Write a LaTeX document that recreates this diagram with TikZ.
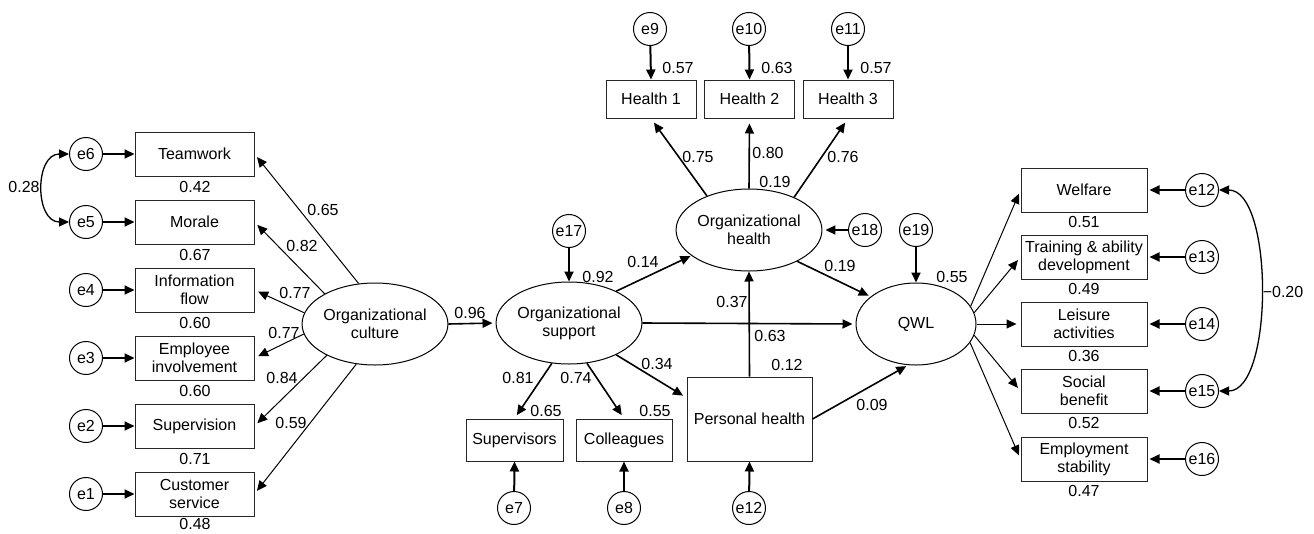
\documentclass[tikz,border=0pt]{standalone}
\usepackage{fontspec}
\setmainfont{Liberation Sans}
\usetikzlibrary{arrows.meta,shapes.geometric,calc}
\begin{document}
\begin{tikzpicture}[x=1pt,y=-1pt,
  font=\fontsize{16}{18}\selectfont,
  tip/.style={-{Triangle[length=10pt,width=9pt]}},
  thinarr/.style={tip, line width=1.0pt},
  patharr/.style={tip, line width=1.6pt},
  errarr/.style={tip, line width=2.0pt},
  covarr/.style={{Triangle[length=10pt,width=9pt]}-{Triangle[length=10pt,width=9pt]}, line width=1.3pt},
  obs/.style={draw=black!85, line width=1pt, fill=white, inner sep=0pt, align=center},
  lbox/.style={obs, minimum width=119pt, minimum height=44pt},
  rbox/.style={obs, minimum width=126pt, minimum height=44pt},
  hbox/.style={obs, minimum width=90pt, minimum height=38pt},
  sbox/.style={obs, minimum height=42pt},
  lat/.style={ellipse, draw, line width=1pt, fill=white, minimum width=120pt, minimum height=82pt, inner sep=0pt, align=center},
  err/.style={circle, draw, line width=1pt, fill=white, minimum size=33pt, inner sep=0pt},
  lab/.style={inner sep=0pt}
]
\useasboundingbox (0,0) rectangle (1314,533);

% ---------- left: organizational culture ----------
\node[lbox] (b6) at (194.5,154) {Teamwork};
\node[lbox] (b5) at (194.5,222) {Morale};
\node[lbox] (b4) at (194.5,290) {Information\\flow};
\node[lbox] (b3) at (194.5,358) {Employee\\involvement};
\node[lbox] (b2) at (194.5,426) {Supervision};
\node[lbox] (b1) at (194.5,494) {Customer\\service};

\node[err] (e6) at (86,154) {e6};
\node[err] (e5) at (86,222) {e5};
\node[err] (e4) at (86,290) {e4};
\node[err] (e3) at (86,358) {e3};
\node[err] (e2) at (86,426) {e2};
\node[err] (e1) at (86,494) {e1};

\node[lab] (r6) at (195,187) {0.42};
\node[lab] (r5) at (195,255) {0.67};
\node[lab] (r4) at (195,323) {0.60};
\node[lab] (r3) at (195,391) {0.60};
\node[lab] (r2) at (195,459) {0.71};
\node[lab] (r1) at (195,524) {0.48};

\foreach \i in {1,...,6} {\draw[errarr] (e\i) -- (b\i);}

\draw[covarr] (e6.west) to[out=180,in=180,looseness=1.3] (e5.west);
\node[lab] (c28) at (24,187) {0.28};

\node[lat] (oc) at (375,324) {Organizational\\culture};

\draw[thinarr, shorten >=4pt] (oc.112) -- (b6.east);
\draw[thinarr, shorten >=4pt] (oc.149) -- (b5.east);
\draw[thinarr, shorten >=4pt] (oc.171) -- (b4.east);
\draw[thinarr, shorten >=4pt] (oc.188) -- (b3.east);
\draw[thinarr, shorten >=4pt] (oc.213) -- (b2.east);
\draw[thinarr, shorten >=4pt] (oc.245) -- (b1.east);

\node[lab] (l65) at (323,210) {0.65};
\node[lab] (l82) at (302,246) {0.82};
\node[lab] (l77a) at (295,293) {0.77};
\node[lab] (l77b) at (284,333) {0.77};
\node[lab] (l84) at (282,378) {0.84};
\node[lab] (l59) at (291,423) {0.59};

% ---------- organizational support ----------
\node[lat] (os) at (569,323) {Organizational\\support};
\draw[patharr, shorten >=3pt] (oc.east) -- (os.west);
\node[lab] (l96) at (470,313) {0.96};

\node[err] (e17) at (569,231) {e17};
\draw[errarr] (e17) -- (os.north);
\node[lab] (l92) at (598,277) {0.92};

\node[sbox, minimum width=97pt] (sup) at (514.5,440) {Supervisors};
\node[sbox, minimum width=96pt] (col) at (624,440) {Colleagues};
\node[err] (e7) at (514,508) {e7};
\node[err] (e8) at (624,508) {e8};
\draw[errarr] (e7) -- (sup.south);
\draw[errarr] (e8) -- (col.south);

\draw[patharr, shorten >=4pt] (os.247) -- (sup.north);
\draw[patharr, shorten >=4pt] (os.294) -- (col.north);
\node[lab] (l81) at (518,378) {0.81};
\node[lab] (l74) at (576,378) {0.74};
\node[lab] (l65b) at (546,411) {0.65};
\node[lab] (l55b) at (655,411) {0.55};

% ---------- personal health ----------
\node[obs, minimum width=125pt, minimum height=84pt] (ph) at (749.5,419) {Personal health};
\node[err] (e12b) at (749,508) {e12};
\draw[errarr] (e12b) -- (ph.south);
\coordinate (phin) at ($(ph.north west)!0.25!(ph.south west)$);
\draw[patharr, shorten >=4pt] (os.326) -- (phin);
\node[lab] (l34) at (657,364) {0.34};
\node[lab] (l12) at (787,365) {0.12};

% ---------- organizational health ----------
\node[lat] (oh) at (749,230) {Organizational\\health};
\node[hbox] (h1) at (651,99) {Health 1};
\node[hbox] (h2) at (749.5,99) {Health 2};
\node[hbox] (h3) at (848,99) {Health 3};
\node[err] (e9) at (650,29) {e9};
\node[err] (e10) at (749,29) {e10};
\node[err] (e11) at (848,29) {e11};
\draw[errarr] (e9) -- (h1.north);
\draw[errarr] (e10) -- (h2.north);
\draw[errarr] (e11) -- (h3.north);
\node[lab] (l57a) at (678,68) {0.57};
\node[lab] (l63) at (777,68) {0.63};
\node[lab] (l57b) at (876,68) {0.57};

\draw[patharr, shorten >=5pt] (oh.141) -- (h1.south);
\draw[patharr, shorten >=5pt] (oh.north) -- (h2.south);
\draw[patharr, shorten >=5pt] (oh.36) -- (h3.south);
\node[lab] (l75) at (698,157) {0.75};
\node[lab] (l80) at (768,153) {0.80};
\node[lab] (l76) at (843,157) {0.76};
\node[lab] (l19a) at (775,182) {0.19};

\node[err] (e18) at (865,230) {e18};
\draw[errarr, shorten >=3pt] (e18) -- (oh.east);

\draw[patharr, shorten >=1pt] (os.34) -- (oh.204);
\node[lab] (l14) at (643,262) {0.14};

\draw[patharr] (ph.north) -- (oh.south);
\node[lab] (l37) at (732,302) {0.37};

% ---------- QWL ----------
\node[lat] (qwl) at (916,324) {QWL};
\draw[patharr, shorten >=3pt] (os.east) -- (qwl.west);
\node[lab] (l63b) at (770,336) {0.63};

\draw[patharr, shorten >=2pt] (oh.327) -- (qwl.149);
\node[lab] (l19b) at (840,266) {0.19};

\draw[patharr, shorten >=2pt] (ph.east) -- (qwl.259);
\node[lab] (l09) at (872,405) {0.09};

\node[err] (e19) at (916,230) {e19};
\draw[errarr] (e19) -- (qwl.north);
\node[lab] (l55) at (952,277) {0.55};

% ---------- right indicators ----------
\node[rbox] (q1) at (1084,190) {Welfare};
\node[rbox] (q2) at (1084,257) {Training \& ability\\development};
\node[rbox] (q3) at (1084,324) {Leisure\\activities};
\node[rbox] (q4) at (1084,391) {Social\\benefit};
\node[rbox] (q5) at (1084,459) {Employment\\stability};

\node[err] (f1) at (1202,190) {e12};
\node[err] (f2) at (1202,257) {e13};
\node[err] (f3) at (1202,324) {e14};
\node[err] (f4) at (1202,391) {e15};
\node[err] (f5) at (1202,459) {e16};
\foreach \i in {1,...,5} {\draw[errarr, shorten >=2pt] (f\i) -- (q\i.east);}

\node[lab] (s1) at (1084,222) {0.51};
\node[lab] (s2) at (1084,289) {0.49};
\node[lab] (s3) at (1084,356) {0.36};
\node[lab] (s4) at (1084,423) {0.52};
\node[lab] (s5) at (1084,491) {0.47};

\draw[thinarr, shorten >=4pt] (qwl.18) -- (q1.west);
\draw[thinarr, shorten >=4pt] (qwl.11) -- (q2.west);
\draw[thinarr, shorten >=4pt] (qwl.east) -- (q3.west);
\draw[thinarr, shorten >=4pt] (qwl.349) -- (q4.west);
\draw[thinarr, shorten >=4pt] (qwl.341) -- (q5.west);

\draw[covarr] (f1.east) to[out=0,in=0,looseness=0.7] (f4.east);
\node[lab] (c20) at (1283,292) {−0.20};
\end{tikzpicture}
\end{document}
